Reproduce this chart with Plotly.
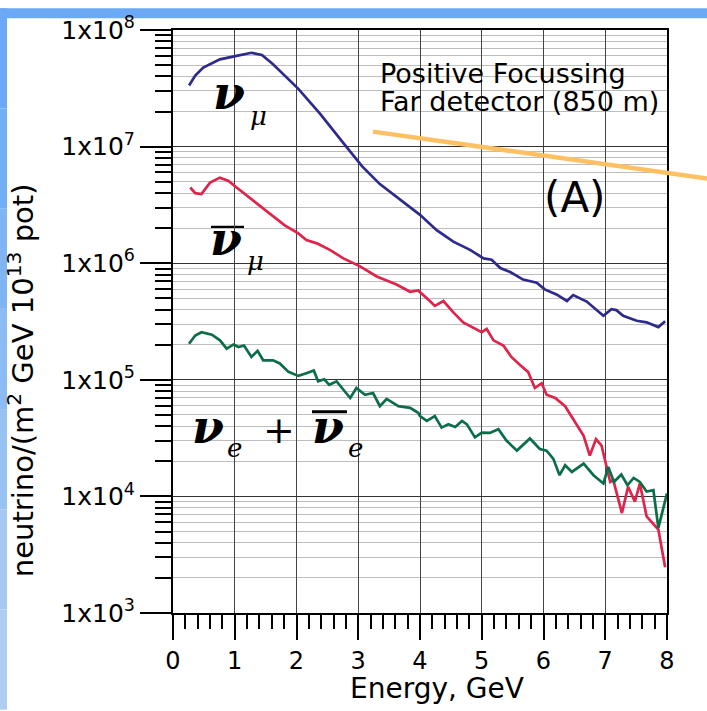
import plotly.graph_objects as go

# ---------------- data ----------------
nu_mu_E = [0.26, 0.36, 0.49, 0.76, 1.03, 1.27, 1.44, 1.62, 2.03, 2.38, 2.76, 3.06, 3.35, 3.73,
           4.00, 4.27, 4.54, 4.81, 5.03, 5.16, 5.30, 5.46, 5.67, 5.89, 6.02, 6.21, 6.38, 6.48,
           6.70, 6.97, 7.10, 7.18, 7.29, 7.51, 7.67, 7.86, 7.97]
nu_mu_flux = [3.34e7, 4.06e7, 4.76e7, 5.6e7, 6.0e7, 6.38e7, 6.1e7, 5.08e7, 3.13e7, 1.92e7, 1.07e7,
              6.8e6, 4.77e6, 3.33e6, 2.6e6, 1.92e6, 1.53e6, 1.30e6, 1.10e6, 1.07e6, 9.1e5, 8.4e5,
              7.24e5, 6.8e5, 5.96e5, 5.4e5, 4.74e5, 5.33e5, 4.69e5, 3.54e5, 4.03e5, 3.96e5, 3.54e5,
              3.21e5, 3.11e5, 2.83e5, 3.18e5]

anu_mu_E = [0.28, 0.36, 0.46, 0.60, 0.76, 0.90, 1.03, 1.30, 1.57, 1.81, 2.03, 2.16, 2.33, 2.54,
            2.76, 3.03, 3.30, 3.62, 3.84, 3.97, 4.16, 4.24, 4.38, 4.54, 4.70, 4.89, 5.00, 5.08,
            5.19, 5.35, 5.48, 5.62, 5.75, 5.86, 5.97, 6.05, 6.19, 6.35, 6.51, 6.65, 6.75, 6.85,
            6.94, 7.02, 7.08, 7.13, 7.27, 7.37, 7.48, 7.56, 7.67, 7.86, 7.97]
anu_mu_flux = [4.46e6, 3.99e6, 3.92e6, 4.91e6, 5.42e6, 5.08e6, 4.46e6, 3.44e6, 2.65e6, 2.11e6,
               1.80e6, 1.58e6, 1.48e6, 1.30e6, 1.10e6, 9.4e5, 7.7e5, 6.56e5, 5.69e5, 5.84e5,
               4.74e5, 4.3e5, 4.74e5, 3.79e5, 3.11e5, 2.73e5, 2.56e5, 2.73e5, 2.18e5, 1.97e5,
               1.57e5, 1.34e5, 1.17e5, 8.5e4, 9.35e4, 7.45e4, 6.98e4, 5.94e4, 4.29e4, 3.31e4,
               2.24e4, 3.1e4, 2.73e4, 1.85e4, 1.33e4, 1.38e4, 7.2e3, 1.21e4, 9.0e3, 1.29e4,
               6.75e3, 5.2e3, 2.47e3]

nu_e_E = [0.26, 0.36, 0.46, 0.63, 0.76, 0.87, 0.98, 1.06, 1.15, 1.27, 1.37, 1.46, 1.62, 1.73,
          1.87, 2.03, 2.16, 2.28, 2.35, 2.45, 2.53, 2.65, 2.76, 2.87, 2.97, 3.11, 3.24, 3.35,
          3.46, 3.65, 3.84, 3.97, 4.00, 4.11, 4.24, 4.35, 4.46, 4.57, 4.68, 4.76, 4.89, 5.00,
          5.13, 5.27, 5.40, 5.57, 5.78, 5.94, 6.05, 6.16, 6.26, 6.35, 6.46, 6.65, 6.81, 6.97,
          7.05, 7.14, 7.26, 7.36, 7.46, 7.56, 7.67, 7.78, 7.86, 8.00]
nu_e_flux = [2.04e5, 2.4e5, 2.56e5, 2.44e5, 2.18e5, 1.85e5, 2.01e5, 1.91e5, 1.97e5, 1.57e5,
             1.77e5, 1.47e5, 1.47e5, 1.38e5, 1.17e5, 1.08e5, 1.14e5, 1.2e5, 9.7e4, 1.01e5,
             9.06e4, 9.7e4, 8.22e4, 6.98e4, 8.5e4, 7.45e4, 7.7e4, 5.94e4, 6.85e4, 5.94e4,
             5.75e4, 5.21e4, 4.89e4, 4.44e4, 4.89e4, 3.89e4, 4.15e4, 3.94e4, 4.44e4, 4.15e4,
             3.21e4, 3.53e4, 3.5e4, 3.77e4, 3.01e4, 2.47e4, 3.14e4, 2.55e4, 2.47e4, 2.1e4,
             1.52e4, 1.85e4, 1.62e4, 1.91e4, 1.52e4, 1.29e4, 1.79e4, 1.33e4, 1.54e4, 1.25e4,
             1.44e4, 1.33e4, 1.1e4, 1.13e4, 5.37e3, 1.06e4]

x_ticks = [0, 1, 2, 3, 4, 5, 6, 7, 8]
y_exponents = [3, 4, 5, 6, 7, 8]
y_ticktext = ["1x10<sup>%d</sup>" % e for e in y_exponents]

# ---------------- layout geometry ----------------
W, H = 707, 711
L, R, T, B = 173, 667, 22, 613


def px(xp):
    return (xp - L) / (R - L)


def py(yp):
    return (B - yp) / (B - T)


SANS = "DejaVu Sans"
SERIF = "DejaVu Serif"

fig = go.Figure()
fig.add_trace(go.Scatter(x=nu_mu_E, y=nu_mu_flux, mode="lines",
                         line=dict(color="#2e2a8c", width=2.7), showlegend=False))
fig.add_trace(go.Scatter(x=anu_mu_E, y=anu_mu_flux, mode="lines",
                         line=dict(color="#e0234b", width=2.7), showlegend=False))
fig.add_trace(go.Scatter(x=nu_e_E, y=nu_e_flux, mode="lines",
                         line=dict(color="#0c6e48", width=2.7), showlegend=False))

minor_y = [k * 10 ** e for e in range(3, 8) for k in range(2, 10)]

fig.update_xaxes(range=[0, 8], tickvals=x_ticks, ticks="outside", ticklen=25, tickwidth=2,
                 tickcolor="black", showline=True, linecolor="black", linewidth=2, mirror=True,
                 showgrid=True, gridcolor="#444444", gridwidth=1, zeroline=False,
                 tickfont=dict(family=SANS, size=24, color="black"),
                 minor=dict(dtick=0.2, ticks="outside", ticklen=14, tickwidth=1.6,
                            tickcolor="black", showgrid=False))
fig.update_yaxes(type="log", range=[3, 8], tickvals=[10 ** e for e in y_exponents],
                 ticktext=y_ticktext, ticks="outside", ticklen=31, tickwidth=2,
                 tickcolor="black", showline=True, linecolor="black", linewidth=2, mirror=True,
                 showgrid=True, gridcolor="#333333", gridwidth=1.2, zeroline=False,
                 tickfont=dict(family=SANS, size=25, color="black"),
                 minor=dict(tickvals=minor_y, ticks="outside", ticklen=16, tickwidth=1.6,
                            tickcolor="black", showgrid=True, gridcolor="#bdbdbd", gridwidth=1))

shapes = []
# light-blue slide border (top band and left band)
shapes.append(dict(type="rect", xref="paper", yref="paper", x0=px(0), x1=px(W), y0=py(10), y1=py(0),
                   fillcolor="#6ba9f7", line=dict(width=0), layer="below"))
left_cols = ["#6ba9f7", "#74aff6", "#80b5f4", "#8cbcf3", "#98c2f2", "#a4c8f1", "#aecdf0"]
seg = H / len(left_cols)
for i, c in enumerate(left_cols):
    shapes.append(dict(type="rect", xref="paper", yref="paper", x0=px(0), x1=px(7),
                       y0=py((i + 1) * seg), y1=py(i * seg), fillcolor=c, line=dict(width=0),
                       layer="below"))
# white boxes behind the species labels (hide gridlines, stay under the curves)
for (x0, x1, y0, y1) in [(200, 272, 68, 125), (202, 272, 210, 275), (180, 370, 400, 462)]:
    shapes.append(dict(type="rect", xref="paper", yref="paper", x0=px(x0), x1=px(x1),
                       y0=py(y1), y1=py(y0), fillcolor="white", line=dict(width=0),
                       layer="between"))
# overbars of the anti-neutrino symbols
shapes.append(dict(type="line", xref="paper", yref="paper", x0=px(211), y0=py(222), x1=px(244), y1=py(222),
                   line=dict(color="black", width=3), layer="between"))
shapes.append(dict(type="line", xref="paper", yref="paper", x0=px(312), y0=py(409), x1=px(347), y1=py(409),
                   line=dict(color="black", width=3), layer="between"))
# orange pointer line
shapes.append(dict(type="line", xref="paper", yref="paper", x0=px(373), y0=py(125), x1=px(710), y1=py(173),
                   line=dict(color="#fdc163", width=4.5)))

ann = []


def text(xp, yp, s, family, size, xanchor="center", yanchor="middle", angle=0):
    ann.append(dict(x=px(xp), y=py(yp), xref="paper", yref="paper", text=s, showarrow=False,
                    xanchor=xanchor, yanchor=yanchor, textangle=angle,
                    font=dict(family=family, size=size, color="black")))


text(378, 66, "Positive Focussing", SANS, 27, xanchor="left")
text(378, 94, "Far detector (850 m)", SANS, 27, xanchor="left")
text(575, 192, "(A)", SANS, 42)
text(437, 690, "Energy, GeV", SANS, 28)
text(21, 377, "neutrino/(m<sup>2</sup> GeV 10<sup>13</sup> pot)", SANS, 29, angle=-90)

# neutrino species labels
text(229, 86, "<b><i>ν</i></b>", SERIF, 46)
text(258, 109, "<i>μ</i>", SERIF, 26)
text(226, 234, "<b><i>ν</i></b>", SERIF, 46)
text(255, 256, "<i>μ</i>", SERIF, 26)
text(208, 424, "<b><i>ν</i></b>", SERIF, 46)
text(234, 446, "<i>e</i>", SERIF, 26)
text(279, 427, "+", SERIF, 38)
text(328, 424, "<b><i>ν</i></b>", SERIF, 46)
text(355, 446, "<i>e</i>", SERIF, 26)

fig.update_layout(width=W, height=H, margin=dict(l=L, r=W - R, t=T, b=H - B),
                  paper_bgcolor="white", plot_bgcolor="white", shapes=shapes, annotations=ann,
                  showlegend=False)

fig.write_html("out.html")
